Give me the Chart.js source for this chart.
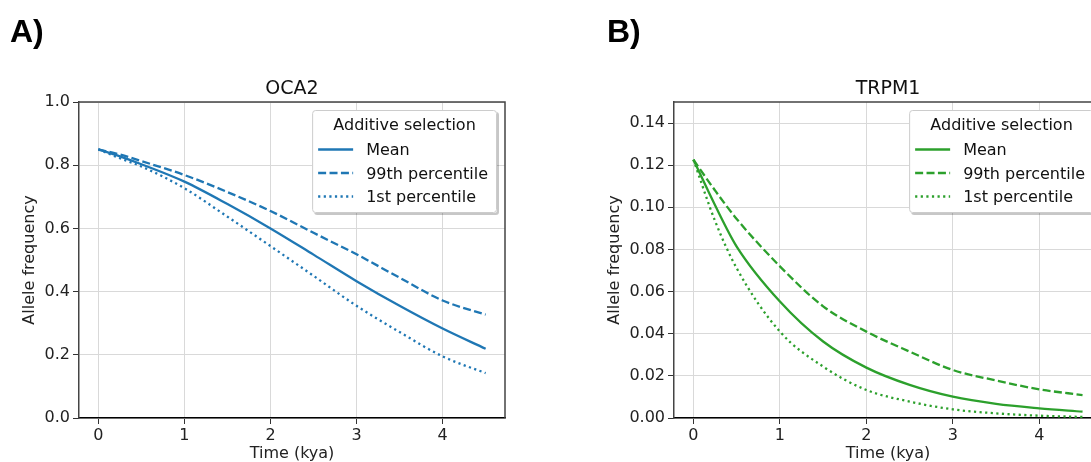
<!DOCTYPE html>
<html><head><meta charset="utf-8">
<script src="https://cdn.jsdelivr.net/npm/chart.js@4.4.1/dist/chart.umd.min.js"></script>
<style>
html,body{margin:0;padding:0;background:#fff;overflow:hidden;width:1091px;height:462px;position:relative;}
#a{position:absolute;left:0;top:0;}
#b{position:absolute;left:560px;top:0;}
</style></head><body>
<canvas id="a" width="545" height="462" style="width:545px;height:462px"></canvas>
<canvas id="b" width="560" height="462" style="width:560px;height:462px"></canvas>
<script>
// ---- data ----
const times = [0, 0.25, 0.5, 1, 1.5, 2, 2.5, 3, 3.5, 4, 4.5];
const xTicks = [0, 1, 2, 3, 4];
const seriesLabels = ['Mean', '99th percentile', '1st percentile'];
const legendTitle = 'Additive selection';
const xLabel = 'Time (kya)';
const yLabel = 'Allele frequency';
const panelA = 'A)';
const panelB = 'B)';
const titleA = 'OCA2';
const titleB = 'TRPM1';
const meanA = [0.850, 0.828, 0.803, 0.748, 0.677, 0.600, 0.517, 0.433, 0.355, 0.283, 0.219];
const p99A  = [0.850, 0.834, 0.813, 0.769, 0.715, 0.655, 0.586, 0.518, 0.444, 0.372, 0.327];
const p1A   = [0.850, 0.822, 0.796, 0.727, 0.637, 0.544, 0.450, 0.355, 0.272, 0.195, 0.142];
const meanB = [0.1226, 0.1010, 0.0814, 0.0553, 0.0363, 0.0239, 0.0157, 0.0101, 0.0067, 0.0046, 0.0030];
const p99B  = [0.1226, 0.1080, 0.0945, 0.0720, 0.0530, 0.0410, 0.0315, 0.0228, 0.0178, 0.0136, 0.0109];
const p1B   = [0.1226, 0.0935, 0.0711, 0.0410, 0.0244, 0.0133, 0.0078, 0.0041, 0.0022, 0.0011, 0.0005];
const yTicksA = [0, 0.2, 0.4, 0.6, 0.8, 1.0];
const yTicksB = [0, 0.02, 0.04, 0.06, 0.08, 0.10, 0.12, 0.14];

// ---- styling ----
const FONT = '"DejaVu Sans", sans-serif';
const BLUE = '#1f77b4', GREEN = '#2ca02c';
const DASHES = [[], [8, 3.4], [2.2, 3.4]];

function mk(label, vals, color, dash) {
  return {
    label, data: times.map((t, i) => ({x: t, y: vals[i]})),
    borderColor: color, backgroundColor: color, borderDash: dash,
    borderWidth: 2.3, pointRadius: 0, fill: false,
    cubicInterpolationMode: 'monotone'
  };
}

function roundRect(ctx, x, y, w, h, r) {
  ctx.beginPath();
  ctx.moveTo(x + r, y);
  ctx.lineTo(x + w - r, y); ctx.arcTo(x + w, y, x + w, y + r, r);
  ctx.lineTo(x + w, y + h - r); ctx.arcTo(x + w, y + h, x + w - r, y + h, r);
  ctx.lineTo(x + r, y + h); ctx.arcTo(x, y + h, x, y + h - r, r);
  ctx.lineTo(x, y + r); ctx.arcTo(x, y, x + r, y, r);
  ctx.closePath();
}

const decor = {
  id: 'decor',
  afterDraw(chart, args, o) {
    const {ctx, chartArea: ca} = chart;
    ctx.save();
    // top & right spines
    ctx.strokeStyle = '#444'; ctx.lineWidth = 1.5;
    ctx.beginPath();
    ctx.moveTo(ca.left, ca.top); ctx.lineTo(ca.right, ca.top); ctx.lineTo(ca.right, ca.bottom);
    ctx.stroke();
    // title
    ctx.fillStyle = '#111';
    ctx.font = '19px ' + FONT;
    ctx.textAlign = 'center'; ctx.textBaseline = 'alphabetic';
    ctx.fillText(o.title, (ca.left + ca.right) / 2, 94);
    // panel letter
    ctx.font = 'bold 32px "Liberation Sans", Arial, sans-serif';
    ctx.textAlign = 'left'; ctx.fillStyle = '#000';
    ctx.fillText(o.panel, o.panelX, 42);
    // legend
    ctx.font = '16px ' + FONT;
    const ds = chart.data.datasets;
    const maxW = Math.max(...ds.map(d => ctx.measureText(d.label).width));
    const w = 54 + maxW + 9, h = 103;
    const x0 = ca.right - 8 - w, y0 = ca.top + 8;
    ctx.fillStyle = 'rgba(0,0,0,0.22)';
    roundRect(ctx, x0 + 2, y0 + 2, w, h, 3); ctx.fill();
    ctx.fillStyle = '#fff';
    roundRect(ctx, x0, y0, w, h, 3); ctx.fill();
    ctx.strokeStyle = '#cccccc'; ctx.lineWidth = 1;
    roundRect(ctx, x0 + 0.5, y0 + 0.5, w - 1, h - 1, 3); ctx.stroke();
    ctx.fillStyle = '#111';
    ctx.textAlign = 'center';
    ctx.fillText(legendTitle, x0 + w / 2, y0 + 20);
    ctx.textAlign = 'left';
    const base = [45, 68.5, 92];
    ds.forEach((d, i) => {
      const by = y0 + base[i];
      ctx.save();
      ctx.strokeStyle = d.borderColor; ctx.lineWidth = 2.3;
      ctx.setLineDash(d.borderDash || []);
      ctx.beginPath(); ctx.moveTo(x0 + 6, by - 5.5); ctx.lineTo(x0 + 41, by - 5.5); ctx.stroke();
      ctx.restore();
      ctx.fillStyle = '#111';
      ctx.fillText(d.label, x0 + 54, by);
    });
    ctx.restore();
  }
};

function makeChart(id, series, color, yTicks, yMax, yW, titlePad, padRight, title, panel, panelX, dec) {
  const tickFont = {family: FONT, size: 16};
  return new Chart(document.getElementById(id), {
    type: 'line',
    data: {datasets: series.map((v, i) => mk(seriesLabels[i], v, color, DASHES[i]))},
    options: {
      responsive: false, animation: false, devicePixelRatio: 1,
      layout: {padding: {left: 0, top: 102, right: padRight, bottom: 0}},
      plugins: {legend: {display: false}, tooltip: {enabled: false},
        decor: {title, panel, panelX}},
      scales: {
        x: {
          type: 'linear', min: -0.225, max: 4.725,
          afterFit(s) { s.height = 44; },
          afterBuildTicks(s) { s.ticks = xTicks.map(v => ({value: v})); },
          grid: {color: '#d9d9d9', lineWidth: 1, tickColor: '#333', tickLength: 6},
          border: {color: '#000', width: 1.5},
          ticks: {font: tickFont, color: '#222', padding: 2, callback: v => String(v)},
          title: {display: true, text: xLabel, color: '#222', padding: 0,
                  font: {family: FONT, size: 16, lineHeight: 1}}
        },
        y: {
          type: 'linear', min: 0, max: yMax,
          afterFit(s) { s.width = yW; },
          afterBuildTicks(s) { s.ticks = yTicks.map(v => ({value: v})); },
          grid: {color: '#d9d9d9', lineWidth: 1, tickColor: '#333', tickLength: 6},
          border: {color: '#444', width: 1.5},
          ticks: {font: tickFont, color: '#222', padding: 3, callback: v => v.toFixed(dec)},
          title: {display: true, text: yLabel, color: '#222', padding: {top: titlePad, bottom: 0},
                  font: {family: FONT, size: 16, lineHeight: 1}}
        }
      }
    },
    plugins: [decor]
  });
}

makeChart('a', [meanA, p99A, p1A], BLUE, yTicksA, 1.0, 79, 22, 40, titleA, panelA, 10, 1);
makeChart('b', [meanB, p99B, p1B], GREEN, yTicksB, 0.15, 114, 46.5, 18, titleB, panelB, 47, 2);
</script>
</body></html>
